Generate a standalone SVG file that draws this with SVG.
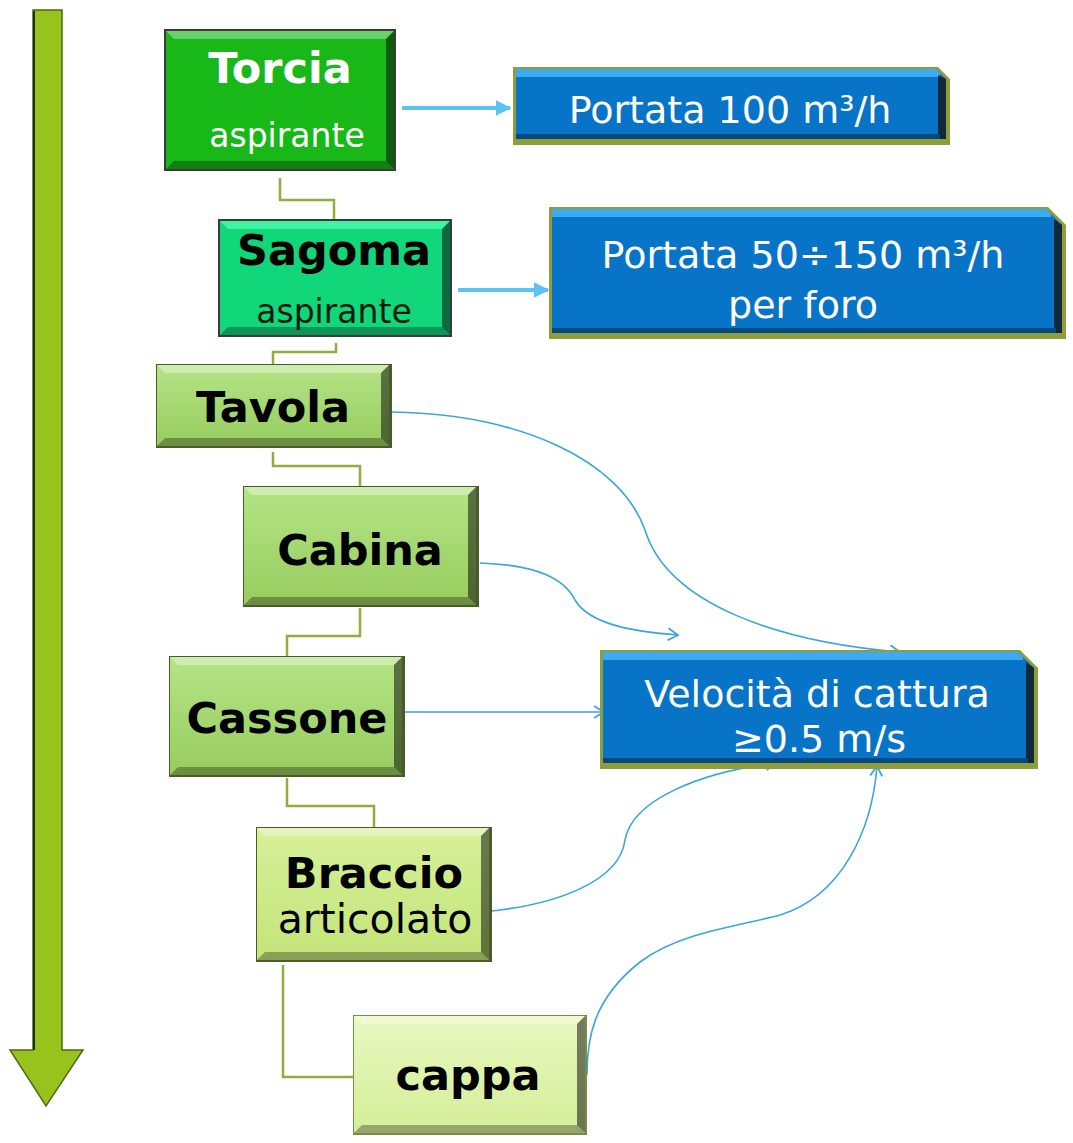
<svg xmlns="http://www.w3.org/2000/svg" width="1073" height="1143" viewBox="0 0 1073 1143">
<defs>
<style>
text{font-family:"DejaVu Sans","Verdana",sans-serif;text-anchor:middle}
.b{font-weight:bold;font-size:43px;fill:#000}
.w{fill:#fff}
.n{font-size:38px;fill:#fff}
.asp{font-size:33px}
.hl{fill:#fff;opacity:.35}
.sh{fill:#000;opacity:.5}
.sh2{fill:#000;opacity:.3}
.elb{fill:none;stroke:#8fae3c;stroke-width:2.5}
.cv{fill:none;stroke:#3aa6dc;stroke-width:1.6}
.thick{fill:none;stroke:#5cc2f6;stroke-width:4}
.bl{fill:#0874c8}
.olive{fill:#8e9e3a}
</style>
<marker id="open" viewBox="0 0 14 14" refX="12" refY="7" markerWidth="14" markerHeight="14" markerUnits="userSpaceOnUse" orient="auto">
<path d="M2,1 L12,7 L2,13" fill="none" stroke="#3aa6dc" stroke-width="1.8"/>
</marker>
<marker id="solid" viewBox="0 0 10 10" refX="9" refY="5" markerWidth="4" markerHeight="4" orient="auto">
<path d="M0,0 L10,5 L0,10 Z" fill="#5cc2f6"/>
</marker>
<linearGradient id="lg1" x1="0" y1="0" x2="0" y2="1">
<stop offset="0" stop-color="#b4e486"/><stop offset="1" stop-color="#98cc5e"/>
</linearGradient>
<linearGradient id="lg2" x1="0" y1="0" x2="0" y2="1">
<stop offset="0" stop-color="#d6f09a"/><stop offset="1" stop-color="#c4e478"/>
</linearGradient>
<linearGradient id="lg3" x1="0" y1="0" x2="0" y2="1">
<stop offset="0" stop-color="#e8f8c0"/><stop offset="1" stop-color="#d4ee98"/>
</linearGradient>
</defs>
<rect width="1073" height="1143" fill="#fff"/>

<g id="arrow-down">
<path d="M33,10 H62 V1050 H83 L46,1106 L10,1050 H33 Z" fill="#98c21c" stroke="#4e6a10" stroke-width="1.5"/>
<line x1="34" y1="11" x2="34" y2="1050" stroke="#1e2a06" stroke-width="2"/>
</g>

<g id="connectors">
<path class="elb" d="M280,178 V200 H334 V220"/>
<path class="elb" d="M336,343 V352 H273 V365"/>
<path class="elb" d="M273,452 V466 H360 V487"/>
<path class="elb" d="M360,608 V636 H287 V657"/>
<path class="elb" d="M287,778 V806 H374 V828"/>
<path class="elb" d="M283,965 V1077 H354"/>
<path class="thick" d="M402,108 H510" marker-end="url(#solid)"/>
<path class="thick" d="M458,290 H548" marker-end="url(#solid)"/>
<path class="cv" d="M392,412 C520,414 620,460 645,530 C668,605 780,642 900,652" marker-end="url(#open)"/>
<path class="cv" d="M480,563 C540,565 565,580 575,600 C590,626 640,632 678,635" marker-end="url(#open)"/>
<path class="cv" d="M405,712 H604" marker-end="url(#open)"/>
<path class="cv" d="M482,912 C560,905 620,880 625,840 C632,800 700,772 776,763" marker-end="url(#open)"/>
<path class="cv" d="M587,1075 C587,1040 592,1000 640,962 C680,932 740,926 780,915 C842,896 872,830 877,766" marker-end="url(#open)"/>
</g>

<g id="torcia">
<rect x="164" y="29" width="232" height="142" fill="#3a3a3a"/>
<rect x="166" y="31" width="228" height="138" fill="#18b818"/>
<path class="hl" d="M166,31 H394 L386,39 H174 Z"/>
<path class="sh" d="M394,31 V169 L386,161 V39 Z"/>
<path class="sh2" d="M166,169 H394 L386,161 H174 Z"/>
<text class="b w" x="280" y="83">Torcia</text>
<text class="asp w" x="287" y="147">aspirante</text>
</g>

<g id="portata100">
<path class="olive" d="M513,67 H938 L950,79 V145 H513 Z"/>
<path class="bl" d="M516,69 H936 L946,79 V139 H516 Z"/>
<path d="M516,69 H936 L940,73 V77 H516 Z" fill="#3eaaf2"/>
<path d="M946,79 V139 H938 V75 Z" fill="#10283a"/>
<path d="M516,134 H940 V139 H516 Z" fill="#06497e"/>
<text class="n" x="730" y="123">Portata 100 m³/h</text>
</g>

<g id="sagoma">
<rect x="218" y="219" width="234" height="118" fill="#3a3a3a"/>
<rect x="220" y="221" width="230" height="114" fill="#12d67a"/>
<path d="M220,221 H450 L442,229 H228 Z" fill="#3cf4a4"/>
<path class="sh" d="M450,221 V335 L442,327 V229 Z"/>
<path class="sh2" d="M220,335 H450 L442,327 H228 Z"/>
<text class="b" x="334" y="265">Sagoma</text>
<text class="asp" x="334" y="323" fill="#0a1a10">aspirante</text>
</g>

<g id="portata50">
<path class="olive" d="M549,207 H1048 L1066,225 V339 H549 Z"/>
<path class="bl" d="M552,209 H1046 L1062,225 V333 H552 Z"/>
<path d="M552,209 H1046 L1051,214 V217 H552 Z" fill="#3eaaf2"/>
<path d="M1062,225 V333 H1054 V219 Z" fill="#10283a"/>
<path d="M552,328 H1056 V333 H552 Z" fill="#06497e"/>
<text class="n" x="803" y="268">Portata 50÷150 m³/h</text>
<text class="n" x="803" y="318">per foro</text>
</g>

<g id="tavola">
<rect x="156" y="364" width="236" height="84" fill="#4a5a2a"/>
<rect x="157" y="365" width="232" height="81" fill="url(#lg1)"/>
<path class="hl" d="M157,365 H389 L381,373 H165 Z"/>
<path class="sh" d="M389,365 V446 L381,438 V373 Z"/>
<path class="sh2" d="M157,446 H389 L381,438 H165 Z"/>
<text class="b" x="273" y="422">Tavola</text>
</g>

<g id="cabina">
<rect x="243" y="486" width="236" height="121" fill="#4a5a2a"/>
<rect x="244" y="487" width="232" height="118" fill="url(#lg1)"/>
<path class="hl" d="M244,487 H476 L468,495 H252 Z"/>
<path class="sh" d="M476,487 V605 L468,597 V495 Z"/>
<path class="sh2" d="M244,605 H476 L468,597 H252 Z"/>
<text class="b" x="360" y="565">Cabina</text>
</g>

<g id="cassone">
<rect x="169" y="656" width="236" height="121" fill="#4a5a2a"/>
<rect x="170" y="657" width="232" height="118" fill="url(#lg1)"/>
<path class="hl" d="M170,657 H402 L394,665 H178 Z"/>
<path class="sh" d="M402,657 V775 L394,767 V665 Z"/>
<path class="sh2" d="M170,775 H402 L394,767 H178 Z"/>
<text class="b" x="287" y="733">Cassone</text>
</g>

<g id="velocita">
<path class="olive" d="M600,650 H1020 L1038,668 V769 H600 Z"/>
<path class="bl" d="M603,652 H1018 L1034,668 V763 H603 Z"/>
<path d="M603,652 H1018 L1023,657 V660 H603 Z" fill="#3eaaf2"/>
<path d="M1034,668 V763 H1026 V662 Z" fill="#10283a"/>
<path d="M603,758 H1028 V763 H603 Z" fill="#06497e"/>
<text class="n" x="817" y="707">Velocità di cattura</text>
<text class="n" x="819" y="752">≥0.5 m/s</text>
</g>

<g id="braccio">
<rect x="256" y="827" width="236" height="135" fill="#4a5a2a"/>
<rect x="257" y="828" width="232" height="132" fill="url(#lg2)"/>
<path class="hl" d="M257,828 H489 L481,836 H265 Z"/>
<path class="sh" d="M489,828 V960 L481,952 V836 Z"/>
<path class="sh2" d="M257,960 H489 L481,952 H265 Z"/>
<text class="b" x="374" y="888">Braccio</text>
<text x="375" y="933" font-size="41" fill="#000">articolato</text>
</g>

<g id="cappa">
<rect x="353" y="1015" width="234" height="120" fill="#7a8a4a"/>
<rect x="354" y="1016" width="231" height="117" fill="url(#lg3)"/>
<path class="hl" d="M354,1016 H585 L577,1024 H362 Z"/>
<path class="sh" d="M585,1016 V1133 L577,1125 V1024 Z"/>
<path class="sh2" d="M354,1133 H585 L577,1125 H362 Z"/>
<text class="b" x="468" y="1090">cappa</text>
</g>
</svg>
